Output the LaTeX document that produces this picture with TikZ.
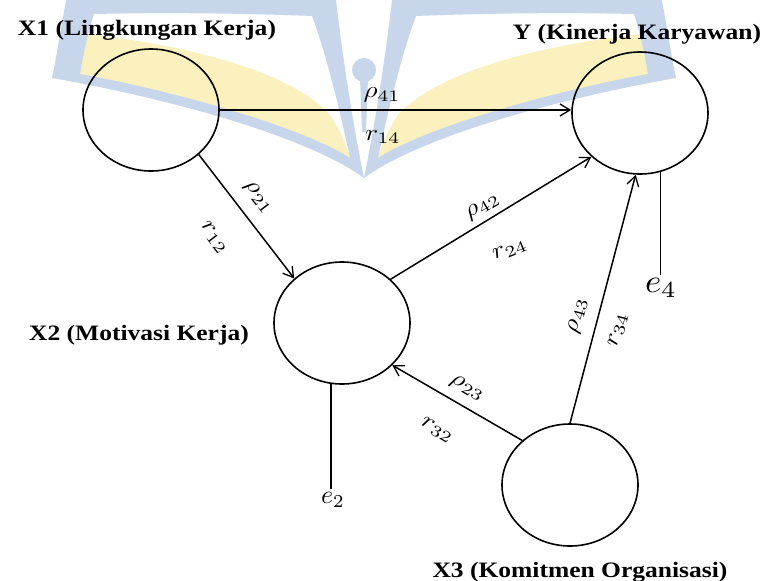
\documentclass[tikz,border=0pt]{standalone}
\usepackage{fontspec}
\newfontfamily\titlefont[FakeStretch=1.16]{Liberation Serif}
\usetikzlibrary{shapes.geometric,arrows.meta}
\definecolor{logoblue}{RGB}{200,214,236}
\definecolor{logoyellow}{RGB}{250,241,190}

% coefficient and error labels, set large and slightly widened
\newcommand\pathcoef[1]{\scalebox{2.7}[2.3]{$#1$}}

% one wing of the background book emblem (mirrored for the other side)
\newcommand\drawlogohalf{%
  \fill[logoyellow] (86,34) .. controls (180,44) and (290,70) .. (330,115)
    .. controls (340,130) and (346,145) .. (354,168)
    .. controls (300,136) and (170,98) .. (72,82) -- cycle;
  \fill[logoblue,even odd rule]
    (52,78) .. controls (58,50) and (62,20) .. (68,-10) -- (335,-10)
    .. controls (340,40) and (352,120) .. (364,178)
    .. controls (300,132) and (150,95) .. (52,78) -- cycle
    (80,74) .. controls (84,50) and (89,30) .. (94,14)
    .. controls (180,12) and (260,14) .. (312,16)
    .. controls (325,50) and (340,110) .. (350,158)
    .. controls (300,126) and (170,90) .. (80,74) -- cycle;
}

\begin{document}
\begin{tikzpicture}[x=1pt,y=-1pt,
  latent/.style={ellipse,draw,line width=1.6pt,minimum width=136pt,minimum height=122pt,inner sep=0pt},
  arrowline/.style={line width=1.5pt,-{Straight Barb[length=10pt,width=12pt,line width=1.3pt]}},
  errline/.style={line width=1.5pt},
  varname/.style={font=\titlefont\bfseries\fontsize{22}{26}\selectfont,anchor=base,inner sep=0pt},
  coef/.style={inner sep=0pt},
  errlabel/.style={inner sep=3pt},
]
\fill[white] (0,0) rectangle (766,581);
\useasboundingbox (0,0) rectangle (766,581);

% background emblem
\begin{scope}
  \clip (0,0) rectangle (766,581);
  \drawlogohalf
  \begin{scope}[xshift=728pt,xscale=-1]
    \drawlogohalf
  \end{scope}
  \fill[logoblue] (364,70) circle[radius=12];
  \fill[logoblue] (360,78) -- (368,78) -- (366,132) -- (362,132) -- cycle;
\end{scope}

% latent variables
\node[latent] (X1) at (151,110) {};
\node[latent] (Y)  at (640,113) {};
\node[latent] (X2) at (342,323) {};
\node[latent] (X3) at (570,485) {};

% variable names
\node[varname] (tX1) at (147,35)  {X1 (Lingkungan Kerja)};
\node[varname] (tY)  at (637,39)  {Y (Kinerja Karyawan)};
\node[varname] (tX2) at (139,340) {X2 (Motivasi Kerja)};
\node[varname] (tX3) at (580,577) {X3 (Komitmen Organisasi)};

% paths
\draw[arrowline] (X1.east)  -- (X1.east -| Y.west);
\draw[arrowline] (X1.-43)   -- (X2.137);
\draw[arrowline] (X2.42)    -- (Y.222);
\draw[arrowline] (X3.90)    -- (Y.266);
\draw[arrowline] (X3.137)   -- (X2.320);

% error terms
\node[errlabel] (e2) at (333,500) {\scalebox{2.6}{$e_2$}};
\node[errlabel] (e4) at (661,288) {\scalebox{3.5}[3.3]{$e_4$}};
\draw[errline] (X2.-100) -- (X2.-100 |- e2.north);
\draw[errline] (Y.-71)   -- (Y.-71 |- e4.north);

% path coefficients
\node[coef] (p41) at (382,95)  {\pathcoef{\rho_{41}}};
\node[coef] (r14) at (383,137) {\pathcoef{r_{14}}};
\node[coef,rotate=-53] (p21) at (258,198) {\pathcoef{\rho_{21}}};
\node[coef,rotate=-53] (r12) at (214,238) {\pathcoef{r_{12}}};
\node[coef,rotate=31]  (p42) at (483,207) {\pathcoef{\rho_{42}}};
\node[coef,rotate=22]  (r24) at (510,250) {\pathcoef{r_{24}}};
\node[coef,rotate=75]  (p43) at (578,316) {\pathcoef{\rho_{43}}};
\node[coef,rotate=75]  (r34) at (618,330) {\pathcoef{r_{34}}};
\node[coef,rotate=-30] (p23) at (467,388) {\pathcoef{\rho_{23}}};
\node[coef,rotate=-30] (r32) at (437,430) {\pathcoef{r_{32}}};
\end{tikzpicture}
\end{document}
